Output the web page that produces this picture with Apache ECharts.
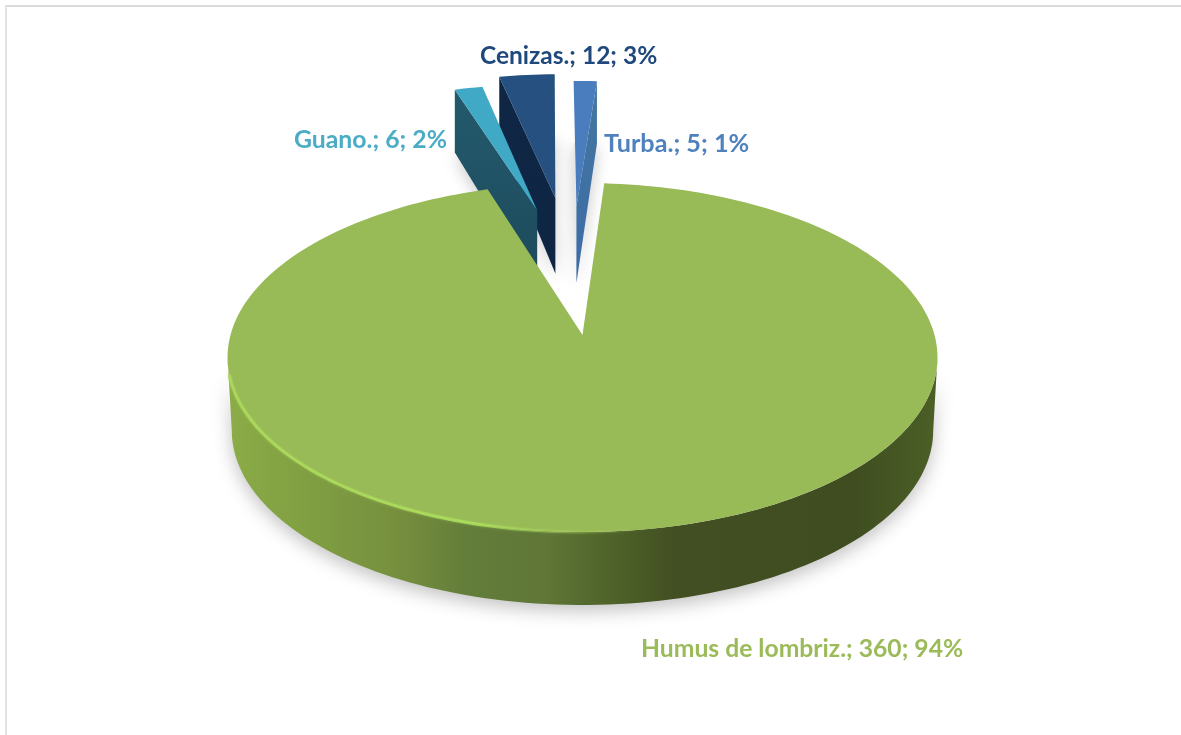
<!DOCTYPE html>
<html><head><meta charset="utf-8">
<style>html,body{margin:0;padding:0;background:#fff}#c{width:1181px;height:735px}</style>
<script src="https://cdn.jsdelivr.net/npm/echarts@6/dist/echarts.min.js"></script>
</head><body><div id="c"></div>
<script>
var categories = ["Humus de lombriz.", "Guano.", "Cenizas.", "Turba."];
var values = [360, 6, 12, 5];

// Projection of the pie plane (perspective, tilted disc)
var view = {cx: 582.5, cy: 335, a: 352, b: 171.6, k: 0.129, startDeg: 4};
// One style per category: explode vector in disc units, colours, label placement
var looks = [
  {explode: [0, 0], top: '#98BA57', wall: null, text: '#9BBB59', lx: 641, ly: 649, size: 24.7},
  {explode: [-0.142, 0.80], top: '#40A9C6', wall: ['#1C4A5C', '#235A6C'], edge: 'start', text: '#4BACC6', lx: 294, ly: 140, size: 24.8},
  {explode: [-0.086, 0.89], top: '#25507F', wall: ['#0E2544', '#0F2645'], edge: 'start', text: '#1F497D', lx: 480, ly: 56, size: 24.5},
  {explode: [-0.019, 0.83], top: '#4A7DBE', wall: ['#3C6BA8', '#44779F'], edge: 'end', text: '#4F81BD', lx: 604, ly: 144, size: 25.2}
];
var total = values.reduce(function (s, v) { return s + v; }, 0);

function project(X, Y) {
  var w = 1 + view.k * Y;
  return [view.cx + view.a * X / w, view.cy - view.b * Y / w];
}
function rim(deg, e, scale) {
  var t = deg * Math.PI / 180, s = scale || 1;
  return project(e[0] + s * Math.sin(t), e[1] + Math.cos(t));
}
function down(p, d) { return [p[0], p[1] + d]; }
function depthAt(Y) { return 88 - 14 * Y; }
function arc(from, to, e, scale) {
  var out = [], n = Math.max(2, Math.ceil(Math.abs(to - from) / 1.5));
  for (var i = 0; i <= n; i++) out.push(rim(from + (to - from) * i / n, e, scale));
  return out;
}

function renderItem(params, api) {
  var i = params.dataIndex, look = looks[i], e = look.explode, before = 0;
  for (var j = 0; j < i; j++) before += values[j];
  var d0 = view.startDeg + before / total * 360;
  var d1 = d0 + api.value(0) / total * 360;
  var apex = project(e[0], e[1]);
  var topFace = [apex].concat(arc(d0, d1, e));
  var kids = [];
  var zBase = (4 - (i === 0 ? 4 : i)) * 10 + 10;
  if (i === 0) {
    zBase = 60;
    var wd = 73, left = 262.6, right = 97.4;
    var upper = arc(right, left, e);
    var lower = arc(left, right, e, 0.988).map(function (p) { return down(p, wd); });
    kids.push({
      type: 'polygon', z2: zBase - 1, shape: {points: upper.concat(lower)},
      style: {
        fill: new echarts.graphic.LinearGradient(0, 0, 1, 0, [
          {offset: 0, color: '#8BAC47'}, {offset: 0.12, color: '#7F9E42'},
          {offset: 0.24, color: '#768F3E'}, {offset: 0.34, color: '#637D3A'},
          {offset: 0.45, color: '#5F7637'}, {offset: 0.54, color: '#4F6329'},
          {offset: 0.63, color: '#424F22'}, {offset: 0.88, color: '#3F4D20'},
          {offset: 1, color: '#4B5F26'}
        ]),
        shadowColor: 'rgba(0,0,0,0.24)', shadowBlur: 18, shadowOffsetY: 6
      }
    });
    kids.push({type: 'polygon', z2: zBase, shape: {points: topFace}, style: {fill: look.top}});
    kids.push({
      type: 'polyline', z2: zBase + 1, shape: {points: arc(257, 172, e)},
      style: {
        fill: null, lineWidth: 3,
        stroke: new echarts.graphic.LinearGradient(0, 0, 1, 0, [
          {offset: 0, color: 'rgba(172,216,92,0.9)'}, {offset: 0.6, color: 'rgba(172,222,92,0.9)'},
          {offset: 1, color: 'rgba(155,187,89,0)'}
        ]),
        shadowColor: 'rgba(172,222,92,0.5)', shadowBlur: 3
      }
    });
  } else {
    var a = apex, o = look.edge === 'start' ? rim(d0, e) : rim(d1, e);
    var outerY = e[1] + 1;
    var wallPts = [a, o, down(o, depthAt(outerY)), down(a, depthAt(e[1]))];
    // soft cast shadow of the exploded slice's underside
    var under = topFace.map(function (p, idx) {
      return down(p, idx === 0 ? depthAt(e[1]) : depthAt(outerY));
    });
    kids.push({
      type: 'polygon', z2: 1, shape: {points: under},
      style: {fill: '#E6E6E6', shadowColor: 'rgba(0,0,0,0.22)', shadowBlur: 16, shadowOffsetY: 4}
    });
    kids.push({
      type: 'polygon', z2: zBase, shape: {points: wallPts},
      style: {fill: new echarts.graphic.LinearGradient(0, 1, 0, 0, [
        {offset: 0, color: look.wall[0]}, {offset: 1, color: look.wall[1]}])}
    });
    kids.push({type: 'polygon', z2: zBase + 1, shape: {points: topFace}, style: {fill: look.top}});
  }
  var pct = Math.round(api.value(0) / total * 100);
  kids.push({
    type: 'text', z2: 100, x: look.lx, y: look.ly,
    style: {
      text: categories[i] + '; ' + api.value(0) + '; ' + pct + '%',
      fill: look.text, font: 'bold ' + look.size + 'px Lato, "Open Sans", sans-serif',
      textAlign: 'left', textVerticalAlign: 'middle'
    }
  });
  return {type: 'group', children: kids};
}

var chart = echarts.init(document.getElementById('c'), null, {renderer: 'canvas'});
chart.setOption({
  animation: false,
  backgroundColor: '#ffffff',
  graphic: [
    {type: 'rect', shape: {x: 5, y: 5, width: 1176, height: 2}, style: {fill: '#D9D9D9'}, silent: true},
    {type: 'rect', shape: {x: 5, y: 5, width: 2, height: 730}, style: {fill: '#E4E4E4'}, silent: true}
  ],
  series: [{
    type: 'custom', coordinateSystem: 'none', silent: true,
    renderItem: renderItem,
    data: values.map(function (v, i) { return {name: categories[i], value: [v]}; })
  }]
});
</script></body></html>
